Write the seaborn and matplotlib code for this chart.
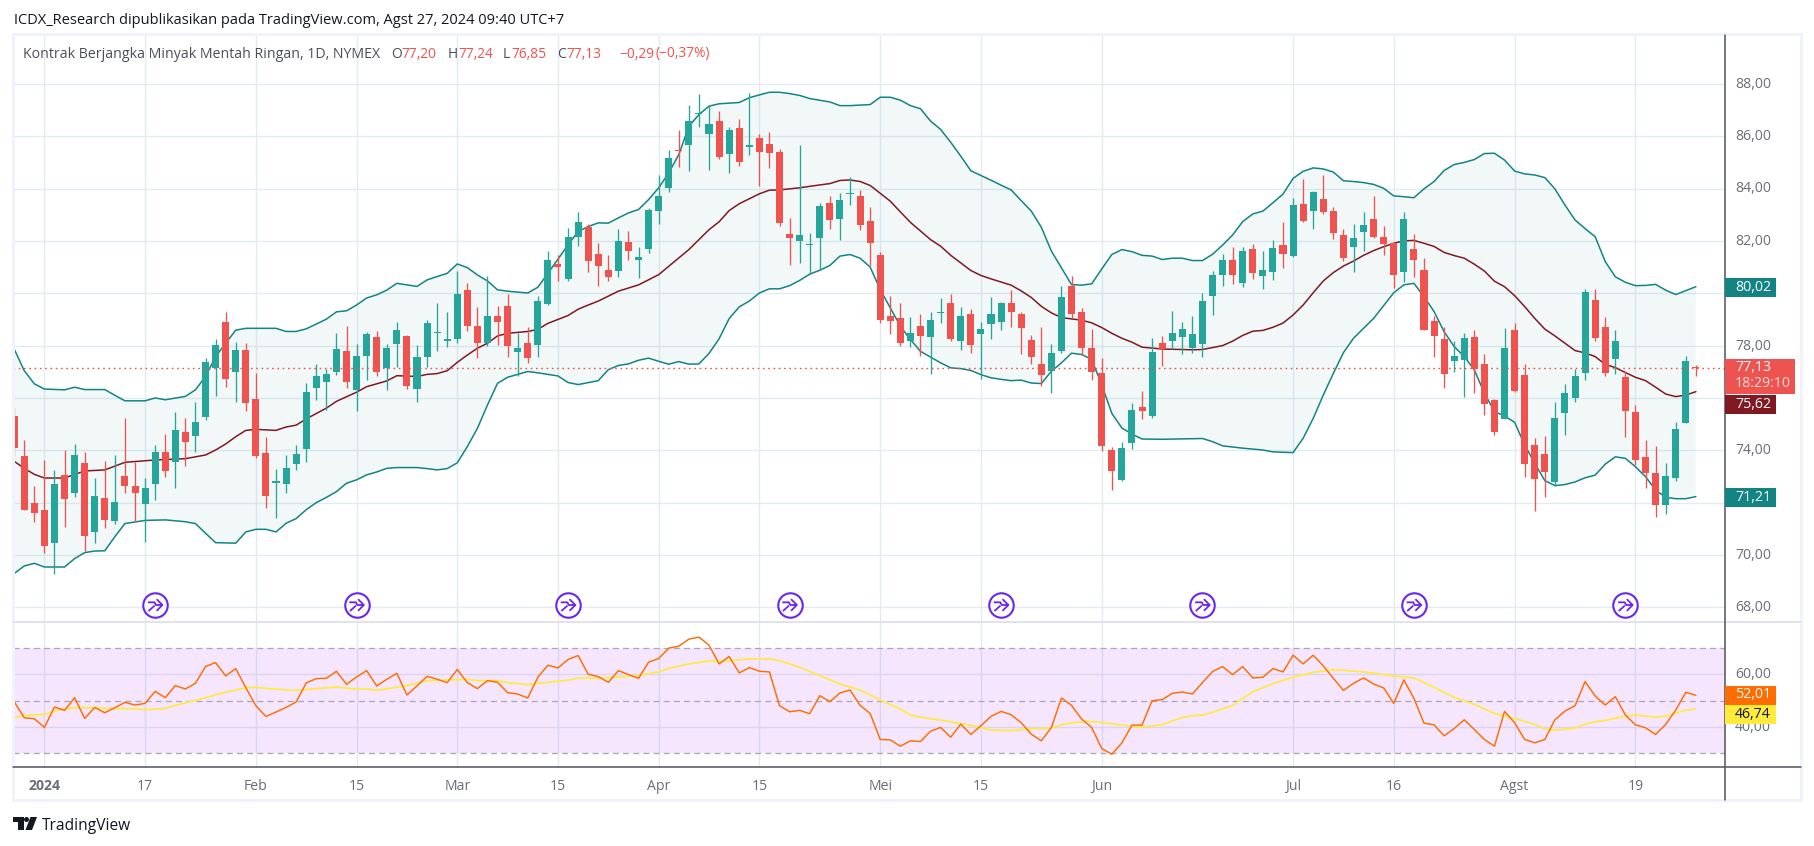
import numpy as np
import pandas as pd
import matplotlib
matplotlib.use("Agg")
import matplotlib.pyplot as plt
import seaborn as sns
from matplotlib.lines import Line2D
from matplotlib.patches import Rectangle, Polygon, Circle
from matplotlib.path import Path
from matplotlib.transforms import Affine2D, ScaledTranslation

# daily candles, first bar is three sessions before 2 Jan 2024 (index 0)
opens = [75.31,73.78,71.99,71.72,70.47,73.06,72.38,73.52,70.89,72.18,71.31,73.02,72.64,71.96,72.71,73.94,73.57,74.70,74.56,75.27,
         77.13,78.90,77.01,77.83,75.96,73.90,72.76,72.73,73.49,74.06,76.39,76.59,77.01,77.80,76.32,77.62,78.33,77.13,78.08,78.37,
         76.36,77.58,78.47,78.19,78.27,80.13,78.75,78.11,79.13,79.52,77.77,78.10,78.04,79.59,81.12,80.56,82.16,82.53,81.50,80.87,
         80.84,81.94,81.26,81.68,83.14,84.01,85.45,85.66,86.84,86.08,86.60,85.31,86.33,85.58,85.95,85.72,85.38,82.28,81.99,81.85,
         82.10,83.43,82.83,83.79,83.70,82.78,81.48,79.15,79.07,78.17,78.73,78.32,79.24,79.61,78.17,79.22,78.43,78.82,78.89,79.61,
         79.22,78.23,77.31,77.02,77.78,80.26,79.30,77.92,76.96,74.01,72.87,74.29,75.66,75.31,78.10,78.18,78.33,77.91,78.06,79.91,
         80.71,81.27,80.41,81.69,80.67,80.83,81.85,81.44,83.41,83.16,83.60,83.14,82.23,81.78,82.35,82.84,82.15,81.92,80.83,81.69,
         80.89,78.94,78.25,77.42,77.46,78.33,77.30,75.92,75.21,78.60,76.88,74.20,73.86,72.80,75.44,76.01,76.97,79.74,78.71,77.50,
         76.80,75.46,73.74,73.13,71.92,72.95,75.06,77.20]
highs = [75.67,74.39,72.64,73.63,73.25,74.01,74.24,73.94,72.93,73.58,73.82,75.24,73.55,72.93,74.20,74.62,75.46,75.24,75.85,77.52,
         78.26,79.29,78.14,78.10,76.96,74.51,73.29,73.82,74.20,76.57,77.30,77.11,78.48,78.75,78.06,78.52,78.56,78.06,78.90,78.41,
         78.03,78.98,79.63,79.29,80.85,80.38,79.48,80.66,79.52,79.97,78.48,78.71,79.90,81.62,81.46,82.48,83.11,82.65,81.91,81.48,
         82.47,82.36,81.75,83.24,84.50,85.49,86.22,87.21,87.63,87.14,86.98,86.37,86.64,87.67,86.10,86.18,85.53,82.86,85.65,82.32,
         83.43,83.73,83.85,84.46,83.93,83.31,81.59,79.91,79.64,79.11,79.19,79.30,79.80,79.99,79.49,79.38,78.92,79.87,79.68,80.14,
         79.30,78.42,78.70,78.08,80.29,80.65,79.42,78.65,77.53,74.12,74.32,75.81,76.27,78.29,78.37,79.33,78.90,79.13,80.01,80.85,
         81.50,81.77,81.77,81.88,81.62,82.04,82.72,83.64,84.37,83.91,84.52,83.30,82.46,82.65,83.11,83.72,82.57,81.92,83.11,82.27,
         81.35,79.13,78.71,78.18,78.48,78.60,77.68,75.96,78.67,78.86,77.30,74.47,74.55,75.85,76.53,77.11,80.16,80.16,79.09,78.60,
         77.03,75.73,74.39,74.16,73.51,75.08,77.60,77.24]
lows = [73.80,71.72,71.27,70.09,69.29,71.08,72.23,70.16,70.47,71.04,71.20,72.38,71.25,70.51,72.10,72.99,72.57,73.41,73.94,75.17,
        76.09,76.43,75.86,75.52,73.72,71.81,71.43,72.38,73.26,73.57,75.94,75.55,76.89,76.39,75.52,76.70,76.82,76.32,77.20,76.36,
        75.86,77.20,77.81,77.96,78.09,78.57,77.54,78.00,78.04,77.58,76.82,77.35,77.58,79.55,80.48,80.48,81.81,80.83,80.28,80.46,
        80.61,81.26,80.58,81.53,82.64,83.86,84.84,84.66,86.35,84.70,85.12,84.59,84.86,85.28,84.09,84.78,82.56,81.07,81.15,80.73,
        80.88,82.45,82.03,83.36,82.41,81.03,78.85,78.43,77.98,77.94,77.59,76.91,78.85,78.17,77.82,77.71,76.71,78.24,78.59,78.70,
        77.67,77.29,76.45,76.18,77.71,79.07,77.63,76.70,73.98,72.48,72.83,74.05,75.20,75.24,77.22,77.87,77.68,77.72,77.57,79.18,
        80.29,80.37,80.25,80.56,80.18,80.52,80.97,81.40,82.74,82.47,83.04,82.09,81.25,80.83,81.63,82.13,81.48,80.21,80.44,80.63,
        78.60,77.58,76.39,77.00,76.05,76.20,75.36,74.60,75.21,76.24,72.99,71.69,72.23,72.65,74.60,75.86,76.70,78.19,76.85,76.93,
        74.52,73.45,72.57,71.46,71.58,72.84,75.06,76.85]
closes = [74.10,71.72,71.62,70.36,72.71,72.15,73.82,70.74,72.25,71.35,72.02,72.64,72.37,72.56,73.94,73.22,74.78,74.33,75.08,77.38,
          78.03,76.74,77.83,75.82,73.80,72.27,72.79,73.32,73.86,76.23,76.84,76.92,77.87,76.62,77.61,78.45,77.01,77.91,78.60,76.47,
          77.57,78.87,78.52,78.26,79.97,78.73,78.11,79.13,78.92,78.00,77.91,77.54,79.71,81.27,81.02,82.15,82.73,81.25,81.06,80.61,
          81.98,81.61,81.37,83.20,83.73,85.15,85.43,86.60,86.89,86.45,85.20,86.22,85.01,85.68,85.39,85.35,82.68,82.10,82.24,81.90,
          83.35,82.79,83.58,83.84,82.60,81.91,78.97,78.93,78.09,78.50,78.36,78.99,79.26,78.24,79.15,78.01,78.65,79.22,79.61,79.28,
          78.66,77.56,76.87,77.73,79.84,79.20,77.90,76.98,74.18,73.21,74.09,75.54,75.50,77.76,77.86,78.48,78.64,78.45,79.71,80.70,
          81.27,80.71,81.62,80.79,80.89,81.73,81.51,83.37,82.78,83.87,83.12,82.32,81.36,82.11,82.61,82.16,81.90,80.71,82.84,81.28,
          78.61,78.38,76.93,77.60,78.29,77.12,75.78,74.71,77.91,76.28,73.49,72.92,73.18,75.23,76.19,76.84,80.05,78.30,76.97,78.18,
          75.51,73.64,73.14,71.92,73.02,74.81,77.41,77.13]

# bollinger lines, read at their bends
upper_idx = [-3,-2,-1,0,2,3,4,6,7,8,10,11,12,14,15,16,17,18,19,20,23,24,25,26,28,29,30,31,32,33,34,35,37,38,39,40,41,42,43,44,45,46,48,49,50,52,53,54,55,56,57,58,59,60,61,62,63,64,65,66,67,69,70,71,72,73,74,75,76,78,79,80,82,83,84,85,86,87,88,89,90,91,92,93,94,95,96,97,98,99,100,101,102,103,104,105,106,107,108,109,110,111,112,113,114,115,116,117,118,119,120,121,122,123,124,125,126,127,128,129,130,131,132,133,134,135,136,137,138,139,140,141,142,143,144,145,146,147,148,149,150,151,152,153,154,155,156,157,158,159,160,161,162,163,164]
upper_val = [77.87,77.04,76.54,76.34,76.31,76.41,76.32,76.32,76.10,75.89,75.89,76.00,75.93,76.06,76.31,76.82,77.58,78.09,78.59,78.66,78.66,78.54,78.54,78.64,79.01,79.29,79.33,79.55,79.82,79.94,80.12,80.38,80.26,80.51,80.64,80.76,81.12,80.98,80.70,80.47,80.13,80.08,80.01,80.23,80.76,81.85,82.36,82.55,82.69,82.68,82.88,83.07,83.20,83.58,84.03,84.60,85.30,86.38,86.83,87.15,87.24,87.29,87.47,87.58,87.68,87.68,87.63,87.56,87.44,87.31,87.17,87.17,87.21,87.49,87.49,87.38,87.17,87.05,86.58,86.26,85.77,85.24,84.68,84.50,84.32,84.13,83.95,83.54,83.14,82.52,81.61,80.97,80.33,80.31,80.36,80.93,81.48,81.67,81.59,81.45,81.42,81.29,81.34,81.34,81.25,81.25,81.49,81.84,82.23,82.74,83.03,83.14,83.46,83.79,84.39,84.66,84.79,84.75,84.63,84.30,84.27,84.23,84.16,84.01,83.72,83.69,83.65,83.99,84.27,84.69,84.92,85.00,85.11,85.34,85.35,85.09,84.67,84.56,84.52,84.42,83.99,83.37,82.80,82.47,82.16,81.21,80.63,80.42,80.29,80.30,80.34,80.12,79.95,80.10,80.25]
mid_idx = [-3,-2,-1,0,2,4,6,8,11,14,16,17,18,19,20,21,23,24,25,26,28,29,31,32,34,35,37,38,39,40,41,42,43,44,45,46,48,49,50,52,53,54,55,57,59,61,62,64,66,67,68,69,71,72,73,75,77,78,79,80,81,82,84,85,86,88,89,90,91,92,93,94,96,97,98,99,100,101,103,104,105,106,107,108,109,111,114,115,117,118,119,120,121,122,123,124,125,126,127,128,129,130,131,132,133,134,135,136,137,138,139,140,141,142,143,144,145,146,147,148,149,150,151,152,153,154,155,156,157,158,159,160,161,162,163,164]
mid_val = [73.58,73.31,73.08,72.94,72.94,73.21,73.25,73.54,73.63,73.68,73.82,74.01,74.24,74.52,74.76,74.80,74.76,74.89,74.96,75.20,75.61,75.87,76.22,76.43,76.65,76.85,76.82,76.90,76.93,77.04,77.36,77.64,77.90,78.09,78.37,78.47,78.54,78.62,78.85,79.15,79.39,79.55,79.70,80.08,80.32,80.71,81.03,81.67,82.43,82.73,83.16,83.42,83.80,83.94,83.95,84.03,84.14,84.19,84.31,84.33,84.27,84.12,83.52,83.11,82.71,82.05,81.80,81.45,81.16,80.87,80.68,80.55,80.31,80.09,79.84,79.50,79.25,79.07,78.97,78.87,78.69,78.47,78.28,78.13,77.94,77.87,77.84,77.85,78.00,78.17,78.39,78.55,78.58,78.70,78.86,79.17,79.55,80.02,80.47,80.79,81.04,81.23,81.45,81.63,81.78,81.91,82.00,82.02,81.91,81.79,81.56,81.44,81.34,81.11,80.85,80.46,80.25,79.91,79.49,79.04,78.63,78.37,78.09,77.81,77.72,77.58,77.28,77.16,76.97,76.79,76.66,76.41,76.15,76.05,76.11,76.24]
lower_idx = [-3,-2,-1,0,2,3,4,5,6,7,8,10,12,14,15,16,17,19,20,21,22,23,24,25,26,27,28,29,30,31,32,33,34,35,37,38,39,40,41,42,43,44,45,46,47,48,49,51,52,53,55,56,57,58,59,60,61,62,63,64,65,66,67,68,69,70,71,72,73,74,75,76,77,78,79,80,81,82,83,84,85,86,87,88,89,90,91,92,93,94,95,96,97,98,99,100,101,102,103,104,105,106,107,108,109,111,115,116,117,119,121,122,124,125,126,127,128,129,130,132,134,135,136,137,138,139,140,141,142,143,144,145,146,147,148,149,150,151,152,153,154,155,156,157,158,159,160,161,162,163,164]
lower_val = [69.29,69.58,69.68,69.54,69.54,69.86,70.09,70.15,70.16,70.70,71.20,71.32,71.34,71.27,71.20,70.83,70.47,70.45,70.88,70.98,70.98,70.88,71.21,71.39,71.73,72.00,72.20,72.42,72.74,72.87,73.06,73.17,73.31,73.34,73.34,73.30,73.25,73.30,73.52,74.14,74.84,75.73,76.56,76.79,76.90,77.01,76.96,76.84,76.59,76.51,76.66,77.08,77.24,77.30,77.44,77.52,77.40,77.29,77.39,77.29,77.30,77.70,78.26,79.03,79.48,79.70,80.01,80.17,80.17,80.29,80.49,80.73,80.88,81.06,81.42,81.48,81.34,81.00,80.14,79.44,78.74,78.23,77.78,77.56,77.34,77.15,77.12,77.05,76.89,76.77,76.71,76.66,76.68,76.57,76.55,77.02,77.34,77.71,77.66,77.47,76.50,75.41,74.85,74.62,74.43,74.42,74.45,74.33,74.17,74.08,74.01,73.94,73.91,74.46,75.22,76.11,76.94,77.73,78.28,79.04,80.02,80.32,80.38,79.87,79.30,78.53,77.96,77.58,77.07,76.18,75.48,75.31,75.07,74.20,73.50,72.84,72.65,72.69,72.79,72.95,73.05,73.47,73.75,73.69,73.37,72.99,72.48,72.20,72.15,72.15,72.23]

# rsi, one value per bar
rsi_vals = [49.55,43.44,43.06,39.75,47.52,46.24,51.08,43.18,47.39,45.35,47.26,49.30,48.28,48.92,53.50,51.08,55.67,54.40,56.56,62.93,
            64.46,59.36,62.17,54.91,48.03,43.95,45.61,47.39,49.43,56.69,58.35,58.47,61.15,56.18,58.98,61.40,55.54,58.09,60.38,52.10,
            55.54,59.24,58.09,56.82,61.79,56.82,54.52,57.58,56.94,52.99,52.49,50.96,58.86,63.44,62.42,65.61,67.14,60.00,59.11,56.94,
            61.40,59.87,58.47,64.59,65.99,69.94,70.70,73.38,74.14,71.09,63.95,66.75,60.51,62.55,61.15,60.89,48.03,45.73,46.24,44.97,
            51.85,49.55,52.87,54.01,48.15,45.10,35.16,35.03,32.61,34.65,34.39,38.34,39.75,36.05,41.02,37.07,40.38,43.95,45.86,44.59,
            41.53,37.20,34.65,39.75,50.96,48.15,42.93,39.75,31.72,29.55,33.89,40.64,40.64,49.94,50.32,52.74,53.25,52.49,56.80,61.02,
            62.93,59.87,62.93,58.60,58.86,62.17,60.89,67.26,63.95,67.26,63.19,58.47,53.89,56.56,58.60,56.31,54.78,48.92,57.84,50.83,
            41.40,40.76,36.56,39.36,42.68,38.98,35.16,32.61,45.86,41.53,35.16,33.89,35.16,42.68,45.99,48.03,57.20,51.72,48.28,51.47,
            44.46,40.76,39.62,37.07,40.89,46.37,53.12,52.01]
rsi_ma_idx = [-3,-2,0,1,2,3,5,7,9,10,12,14,16,17,20,21,23,25,27,29,31,32,33,34,36,38,40,42,43,45,46,48,50,52,53,55,57,59,61,62,64,66,67,69,70,72,73,75,76,77,79,81,82,83,85,86,87,89,91,93,94,96,98,100,101,102,104,106,108,109,111,113,114,115,116,118,120,122,124,126,128,131,134,136,138,140,142,144,146,148,149,150,152,153,154,155,157,158,160,161,163,164]
rsi_ma_val = [43.44,44.33,44.71,45.99,46.88,47.26,47.26,46.88,46.88,46.50,47.01,49.17,51.08,52.23,54.91,55.03,54.27,53.89,54.52,55.16,54.27,54.40,53.89,54.40,55.67,57.58,57.84,58.09,57.58,57.58,56.82,56.05,56.94,57.71,58.60,58.47,58.98,59.49,60.89,62.29,63.95,65.10,64.84,65.48,65.86,65.86,65.23,62.68,61.02,59.49,56.31,54.01,52.10,50.19,46.75,44.46,43.69,42.55,41.27,39.75,38.73,38.60,39.24,39.49,40.76,41.53,42.04,41.15,40.13,39.87,40.76,43.57,44.21,44.46,45.48,48.15,53.36,56.43,58.86,60.77,61.78,60.89,59.36,58.60,55.03,51.21,48.54,45.10,43.18,40.89,39.24,38.73,39.49,41.02,41.91,42.42,44.08,44.46,43.69,44.08,46.37,46.74]

event_idx = [11, 31, 52, 74, 95, 115, 136, 157]
date_idx = [0, 10, 21, 31, 41, 51, 61, 71, 83, 93, 105, 124, 134, 146, 158]
date_labels = ["2024", "17", "Feb", "15", "Mar", "15", "Apr", "15", "Mei", "15", "Jun", "Jul", "16", "Agst", "19"]
price_ticks = [68, 70, 72, 74, 76, 78, 80, 82, 84, 86, 88]
# 72, 76 and 80 sit behind the value tags in the original
price_labels = ["68,00", "70,00", "", "74,00", "", "78,00", "", "82,00", "84,00", "86,00", "88,00"]
rsi_ticks = [40, 60]
rsi_labels = ["40,00", "60,00"]
rsi_bands = [70, 50, 30]
last_price = 77.13

GREEN = "#26a69a"
RED = "#ef5350"
TEAL = "#138484"
DARKRED = "#801922"
GRID = "#e1ebf2"
AXIS = "#50535e"
TXT = "#6a6d78"

W, H = 1814, 846
sns.set_theme(style="white")
plt.rcParams["font.family"] = ["Open Sans", "DejaVu Sans"]

fig = plt.figure(figsize=(W / 100, H / 100), dpi=100, facecolor="white")
px = Affine2D().scale(1 / W, -1 / H).translate(0, 1) + fig.transFigure

AX_L, AX_R, AX_T, AX_M, AX_B = 13, 1724.7, 36, 622, 767.5
ax = fig.add_axes([AX_L / W, 1 - AX_M / H, (AX_R - AX_L) / W, (AX_M - AX_T) / H])
sub = fig.add_axes([AX_L / W, 1 - AX_B / H, (AX_R - AX_L) / W, (AX_B - AX_M) / H], sharex=ax)

df = pd.DataFrame({"open": opens, "high": highs, "low": lows, "close": closes, "rsi": rsi_vals})
df["bar"] = np.arange(len(df)) - 3
up = df.close >= df.open
colors = np.where(up, GREEN, RED)

# bollinger area first, candles on top
band_x = upper_idx + lower_idx[::-1]
band_y = upper_val + lower_val[::-1]
ax.fill(band_x, band_y, color=TEAL, alpha=0.05, lw=0, zorder=1)
sns.lineplot(x=upper_idx, y=upper_val, ax=ax, color=TEAL, lw=1.1, zorder=2)
sns.lineplot(x=lower_idx, y=lower_val, ax=ax, color=TEAL, lw=1.1, zorder=2)
sns.lineplot(x=mid_idx, y=mid_val, ax=ax, color=DARKRED, lw=1.1, zorder=2)

ax.vlines(df.bar, df.low, df.high, colors=colors, lw=0.95, zorder=3)
body = np.maximum((df.close - df.open).abs(), 0.05)
ax.bar(df.bar, body, bottom=df[["open", "close"]].min(axis=1), width=0.70, color=colors, lw=0, zorder=4)

ax.axhline(last_price, color=RED, lw=1, dashes=(1.2, 2.6), zorder=5)

# event markers
ev_y = 68 + (607.3 - 605) / 26.17
arrow = Path([(-.6, .22), (-.05, .22), (.05, 0), (.6, 0), (.12, .48), (.6, 0), (.12, -.48), (-.55, -.5), (-.05, -.05)],
             [1, 2, 2, 2, 1, 2, 2, 1, 2])
ax.scatter(event_idx, [ev_y] * len(event_idx), s=310, facecolor="white", edgecolor="#6a25f0", lw=1.5, zorder=6)
ax.scatter(event_idx, [ev_y] * len(event_idx), s=110, marker=arrow, facecolor="none", edgecolor="#6a25f0", lw=1.3, zorder=7)

# rsi pane
sub.axhspan(30, 70, color="#b030f0", alpha=0.12, lw=0, zorder=1)
for lvl in rsi_bands:
    sub.axhline(lvl, color="#aba9b5", lw=0.95, dashes=(4.5, 3.2), zorder=2)
sns.lineplot(x=rsi_ma_idx, y=rsi_ma_val, ax=sub, color="#ffeb3b", lw=1.2, zorder=3)
sns.lineplot(data=df, x="bar", y="rsi", ax=sub, color="#ff6d00", lw=1.05, zorder=4)

ax.set_xlim((AX_L - 44.4) / 10.07, (AX_R - 44.4) / 10.07)
ax.set_ylim(68 - (AX_M - 607.3) / 26.17, 68 + (607.3 - AX_T) / 26.17)
sub.set_ylim(24.5, 79.9)

for a in (ax, sub):
    a.set_xlabel("")
    a.set_ylabel("")
    a.yaxis.tick_right()
    a.grid(True, color=GRID, lw=1.0, zorder=0)
    a.set_axisbelow(True)
    for s in a.spines.values():
        s.set_visible(False)
    a.tick_params(axis="both", length=0, labelsize=10.1, labelcolor=TXT, pad=7.5)

ax.set_yticks(price_ticks, price_labels)
sub.set_yticks(rsi_ticks, rsi_labels)
sub.set_xticks(date_idx, date_labels)
ax.tick_params(axis="x", labelbottom=False)
sub.tick_params(axis="x", pad=8.5)
sub.get_xticklabels()[0].set_fontweight("bold")

# price labels sit a little above their grid lines
nudge = ScaledTranslation(0, 1.6 / 100, fig.dpi_scale_trans)
for a in (ax, sub):
    for lab in a.get_yticklabels():
        lab.set_transform(lab.get_transform() + nudge)


def fig_line(xs, ys, color, lw):
    fig.add_artist(Line2D(xs, ys, transform=px, color=color, lw=lw, zorder=8))


def tag(y0, y1, x1, color):
    fig.add_artist(Rectangle((AX_R + 0.5, y0), x1 - AX_R - 0.5, y1 - y0, transform=px, facecolor=color, edgecolor="none", zorder=9))


def txt(x, y, s, color=TXT, size=10.2, **kw):
    fig.text(x, y, s, transform=px, color=color, fontsize=size, va="center", **kw)


# chart frame and pane separators
fig.add_artist(Rectangle((12.6, 34), 1801 - 12.6, 800 - 34, transform=px, facecolor="none", edgecolor="#f0f3fa", lw=2.2, zorder=1))
fig_line([AX_L, 1801], [AX_M, AX_M], "#e0e3eb", 1.4)
fig_line([AX_L, 1801], [AX_B, AX_B], AXIS, 1.1)
fig_line([AX_R, AX_R], [35, 800], AXIS, 1.1)

# value tags on the price scale
tag(278, 297, 1776, TEAL)
txt(1735, 287.5, "80,02", "white", zorder=10)
tag(488.5, 507, 1776, TEAL)
txt(1735, 497.5, "71,21", "white", zorder=10)
tag(395, 414, 1776, DARKRED)
txt(1735, 404.5, "75,62", "white", zorder=10)
tag(359.5, 394, 1795, RED)
txt(1735, 367.5, "77,13", "white", zorder=10)
txt(1735, 383.5, "18:29:10", "#ffdcda", zorder=10)
tag(686, 705, 1776, "#ff6d00")
txt(1735, 695, "52,01", "white", zorder=10)
tag(705, 723.7, 1776, "#ffeb3b")
txt(1735, 714.5, "46,74", "#131722", zorder=10)

# header
txt(13.5, 20.5, "ICDX_Research dipublikasikan pada TradingView.com, Agst 27, 2024 09:40 UTC+7", "#131722", 10.5)
txt(23, 54, "Kontrak Berjangka Minyak Mentah Ringan, 1D, NYMEX", "#4c4f5a", 10.2, zorder=10)
for x, s, c in [(391, "O", "#4c4f5a"), (401, "77,20", RED), (448, "H", "#4c4f5a"), (458, "77,24", RED),
                (503, "L", "#4c4f5a"), (511, "76,85", RED), (557, "C", "#4c4f5a"), (566, "77,13", RED),
                (619, "−0,29", RED), (656, "(−0,37%)", RED)]:
    txt(x, 54, s, c, 9.9, zorder=10)

# tradingview logo
fig.add_artist(Rectangle((13, 817), 11, 5, transform=px, facecolor="#131722", edgecolor="none"))
fig.add_artist(Rectangle((18, 817), 6, 13, transform=px, facecolor="#131722", edgecolor="none"))
fig.add_artist(Circle((26.5, 819.5), 2.5, transform=px, facecolor="#131722", edgecolor="none"))
fig.add_artist(Polygon([(30.5, 817), (37, 817), (32, 830), (25.5, 830)], transform=px, facecolor="#131722", edgecolor="none"))
txt(42, 826, "TradingView", "#131722", 11.2)

fig.savefig("out.png", dpi=100, facecolor="white")
